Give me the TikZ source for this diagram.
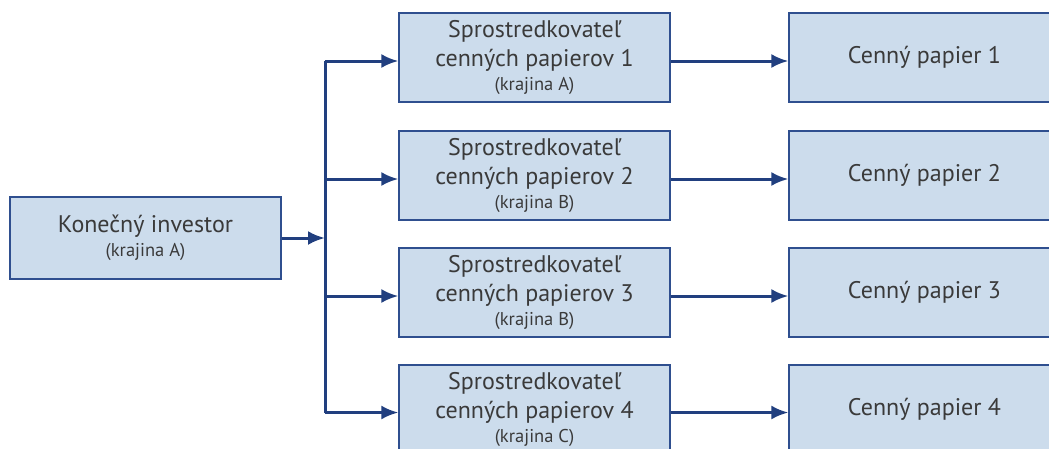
\documentclass[tikz,border=0pt]{standalone}
\usepackage{fontspec}
\setmainfont{PT Sans}
\usetikzlibrary{arrows.meta}
\definecolor{boxfill}{HTML}{CCDCEC}
\definecolor{boxline}{HTML}{2F4F8F}
\definecolor{arrowblue}{HTML}{213F7F}
\definecolor{textgray}{HTML}{3A3A3A}
\begin{document}
\begin{tikzpicture}[x=1pt,y=-1pt]
	\tikzset{box/.style = {draw=boxline, fill=boxfill, line width=1.2pt, minimum width=271pt, minimum height=89pt, inner sep=0pt, align=center, text=textgray, font=\fontsize{24}{29}\selectfont}}
	\tikzset{edge/.style = {draw=arrowblue, line width=3pt, -{Latex[length=17pt,width=14pt]}}}
	\useasboundingbox (0,0) rectangle (1049,448);
	\clip (0,0) rectangle (1049,448);
	% Draw boxes
	\node[box, minimum height=82pt] (inv) at (145.5,238) {Konečný investor\\[-5pt]{\fontsize{18.5}{20}\selectfont (krajina A)}};
	\node[box] (S1) at (534.5,57.5) {Sprostredkovateľ\\cenných papierov 1\\[-5pt]{\fontsize{18.5}{20}\selectfont (krajina A)}};
	\node[box] (S2) at (534.5,175.5) {Sprostredkovateľ\\cenných papierov 2\\[-5pt]{\fontsize{18.5}{20}\selectfont (krajina B)}};
	\node[box] (S3) at (534.5,292.5) {Sprostredkovateľ\\cenných papierov 3\\[-5pt]{\fontsize{18.5}{20}\selectfont (krajina B)}};
	\node[box] (S4) at (534.5,409.5) {Sprostredkovateľ\\cenných papierov 4\\[-5pt]{\fontsize{18.5}{20}\selectfont (krajina C)}};
	\node[box] (C1) at (924.5,57.5) {Cenný papier 1};
	\node[box] (C2) at (924.5,175.5) {Cenný papier 2};
	\node[box] (C3) at (924.5,292.5) {Cenný papier 3};
	\node[box] (C4) at (924.5,409.5) {Cenný papier 4};
	% Branch points
	\coordinate (J) at (325,238);
	\coordinate (B1) at (325,61);
	\coordinate (B2) at (325,179);
	\coordinate (B3) at (325,296);
	\coordinate (B4) at (325,412.5);
	\draw[edge] (inv.east |- J) -- (J);
	\draw[draw=arrowblue, line width=3pt] (B1) -- (B4);
	\draw[edge] (B1) -- (B1 -| S1.west);
	\draw[edge] (B2) -- (B2 -| S2.west);
	\draw[edge] (B3) -- (B3 -| S3.west);
	\draw[edge] (B4) -- (B4 -| S4.west);
	\draw[edge] (S1.east |- B1) -- (B1 -| C1.west);
	\draw[edge] (S2.east |- B2) -- (B2 -| C2.west);
	\draw[edge] (S3.east |- B3) -- (B3 -| C3.west);
	\draw[edge] (S4.east |- B4) -- (B4 -| C4.west);
\end{tikzpicture}
\end{document}
